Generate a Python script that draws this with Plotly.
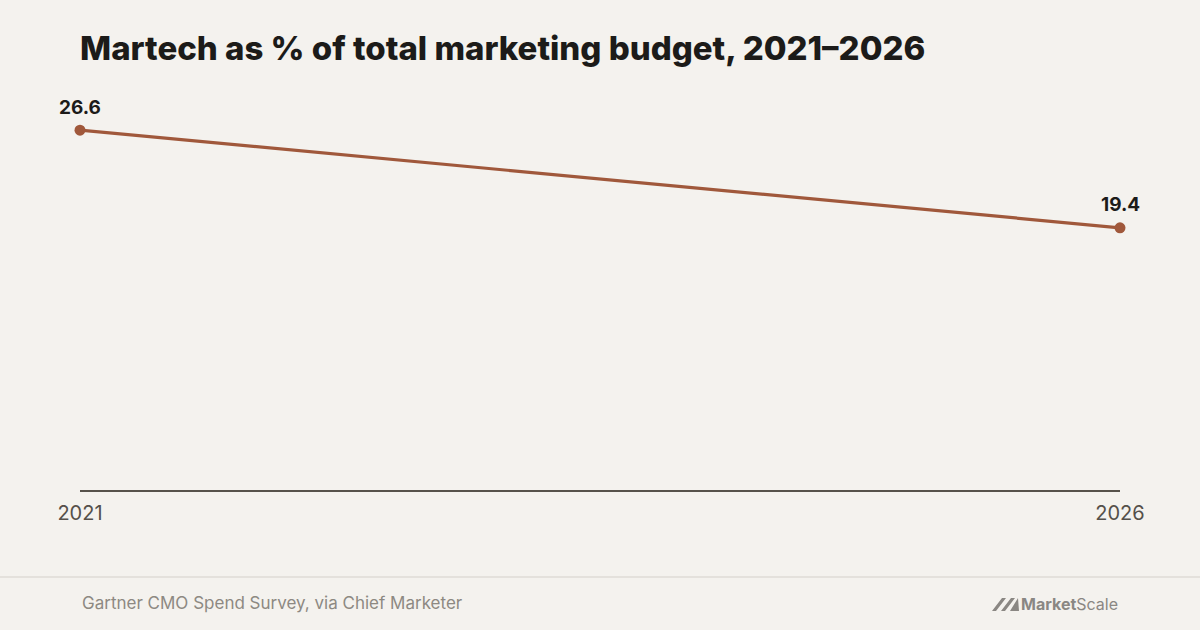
import plotly.graph_objects as go

years = [2021, 2026]
values = [26.6, 19.4]
tick_labels = ["2021", "2026"]
title_text = "Martech as % of total marketing budget, 2021–2026"
source_text = "Gartner CMO Spend Survey, via Chief Marketer"

BG = "#f4f2ee"
LINE = "#a0583b"
FONT = "Inter, Liberation Sans, sans-serif"

fig = go.Figure()
fig.add_trace(go.Scatter(
    x=years, y=values, mode="lines+markers",
    line=dict(color=LINE, width=3.2),
    marker=dict(color=LINE, size=11),
    cliponaxis=False,
    hoverinfo="skip",
))

for xv, yv in zip(years, values):
    fig.add_annotation(x=xv, y=yv, text=f"<b>{yv:.1f}</b>", showarrow=False,
                       yshift=23, yanchor="middle", xanchor="center",
                       font=dict(family=FONT, size=19, color="#1c1b19"))

fig.update_layout(
    width=1200, height=630,
    paper_bgcolor=BG, plot_bgcolor=BG,
    margin=dict(l=80, r=80, t=84, b=139),
    showlegend=False,
    xaxis=dict(
        range=[2021, 2026], tickvals=years, ticktext=tick_labels,
        showgrid=False, zeroline=False, showline=False,
        ticks="", ticklabelstandoff=8,
        tickfont=dict(family=FONT, size=20, color="#55504a"),
        fixedrange=True,
    ),
    yaxis=dict(
        range=[0, 30], showgrid=False, zeroline=True, zerolinecolor="#57524b",
        zerolinewidth=2, showticklabels=False, showline=False, ticks="",
        fixedrange=True,
    ),
    title=dict(
        text=title_text, x=0, xanchor="left", xref="paper",
        y=1 - 48/630, yanchor="middle", yref="container",
        font=dict(family=FONT, size=33, color="#1c1b19", weight=800),
    ),
)

px = lambda X: (X - 80) / 1040
py = lambda Y: -(Y - 491) / 407

# footer separator
fig.add_shape(type="line", xref="paper", yref="paper", x0=px(0), x1=px(1200),
              y0=py(577), y1=py(577), line=dict(color="#e4e1dc", width=2))

fig.add_annotation(text=source_text, xref="paper", yref="paper", x=0, xanchor="left",
                   y=py(603), yanchor="middle", showarrow=False,
                   font=dict(family=FONT, size=17, color="#8d8982"))

# MarketScale logo text
fig.add_annotation(text="<b>Market</b>Scale", xref="paper", yref="paper", x=px(1120), xanchor="right",
                   y=py(604), yanchor="middle", showarrow=False,
                   font=dict(family=FONT, size=16, color="#8a8783"))
icon_path = (f"M {px(992)},{py(611)} L {px(1002)},{py(598)} L {px(1006)},{py(598)} L {px(996)},{py(611)} Z "
             f"M {px(1001)},{py(611)} L {px(1011)},{py(598)} L {px(1015)},{py(598)} L {px(1005)},{py(611)} Z "
             f"M {px(1010)},{py(611)} L {px(1018)},{py(598)} L {px(1019)},{py(611)} Z")
fig.add_shape(type="path", xref="paper", yref="paper", path=icon_path,
              fillcolor="#8a8783", line=dict(width=0))

fig.write_html("out.html", config={"displayModeBar": False},
               post_script="document.body.style.margin='0';")
